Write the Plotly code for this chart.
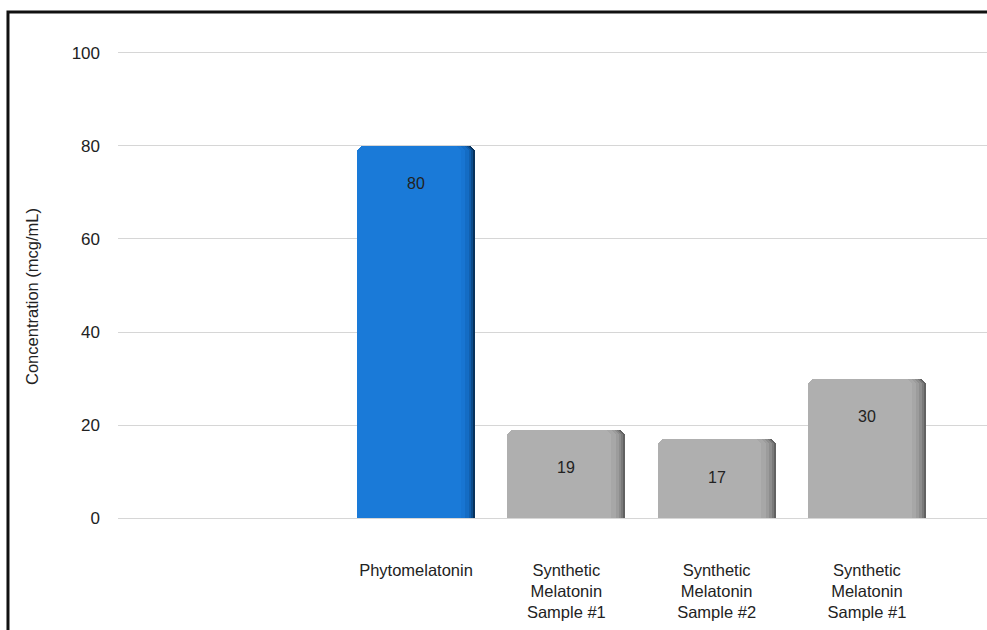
import plotly.graph_objects as go

# Melatonin concentration by sample
categories = ["Phytomelatonin",
              "Synthetic<br>Melatonin<br>Sample #1",
              "Synthetic<br>Melatonin<br>Sample #2",
              "Synthetic<br>Melatonin<br>Sample #1"]
values = [80, 19, 17, 30]
y_ticks = [0, 20, 40, 60, 80, 100]

positions = list(range(len(values)))

# Shading layers (outermost first) for a bevelled bar lit from the left:
# a dark right edge that softens into the flat front face.
blue_layers = ["#08325c", "#0c4c8c", "#115fae", "#146cc4", "#1875d2", "#1a7ad8"]
grey_layers = ["#626262", "#7a7a7a", "#8d8d8d", "#9c9c9c", "#a7a7a7", "#afafaf"]
layer_widths = [0.785, 0.772, 0.758, 0.742, 0.72, 0.69]
BAR_LEFT = -0.3925

FONT = "Liberation Sans, Arial, Helvetica, sans-serif"

fig = go.Figure()
for k, w in enumerate(layer_widths):
    colors = [blue_layers[k] if i == 0 else grey_layers[k] for i in positions]
    fig.add_trace(go.Bar(
        x=positions, y=values,
        width=[w] * len(values), offset=[BAR_LEFT] * len(values),
        marker=dict(color=colors, line=dict(width=0), cornerradius=7),
        hoverinfo="skip" if k else "x+y",
        showlegend=False,
    ))

# Value labels near the top of each bar
for i, v in zip(positions, values):
    fig.add_annotation(x=i, y=v, text=str(v), showarrow=False,
                       yshift=-38, font=dict(family=FONT, size=16, color="#222222"))

# Rotated axis title
fig.add_annotation(xref="paper", yref="paper", x=-0.099, y=0.5,
                   text="Concentration (mcg/mL)", textangle=-90, showarrow=False,
                   xanchor="center", yanchor="middle",
                   font=dict(family=FONT, size=16.5, color="#222222"))

# Black frame around the chart
fig.add_shape(type="rect", xref="paper", yref="paper",
              x0=-0.1266, x1=1.05, y0=-0.2, y1=1.0419,
              line=dict(color="#111111", width=3), fillcolor="rgba(0,0,0,0)",
              layer="above")

fig.update_layout(
    width=987, height=630,
    margin=dict(l=118, r=0, t=34, b=72),
    paper_bgcolor="white", plot_bgcolor="white",
    barmode="overlay", bargap=0,
    font=dict(family=FONT, size=17, color="#222222"),
    xaxis=dict(
        range=[-1.983, 3.799],
        tickmode="array", tickvals=positions, ticktext=categories,
        showgrid=False, zeroline=False, showline=False, ticks="",
        tickfont=dict(family=FONT, size=16.5, color="#222222"),
        fixedrange=True,
    ),
    yaxis=dict(
        range=[-8.5, 104],
        tickmode="array", tickvals=y_ticks,
        showgrid=True, gridcolor="#d6d6d6", gridwidth=1,
        zeroline=False, showline=False, ticks="",
        ticklabelstandoff=17,
        tickfont=dict(family=FONT, size=17, color="#222222"),
        fixedrange=True,
    ),
)

fig.write_html("out.html")
